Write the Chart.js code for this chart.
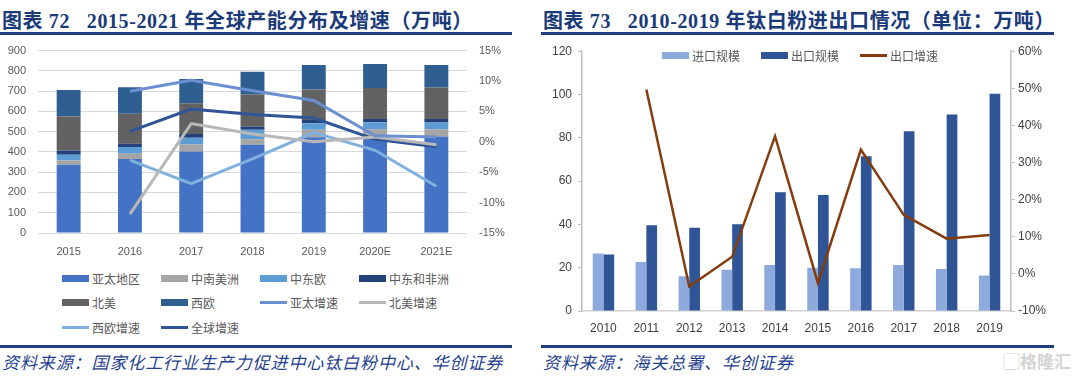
<!DOCTYPE html>
<html>
<head>
<meta charset="utf-8">
<script src="https://cdn.jsdelivr.net/npm/chart.js@4"></script>
<style>
  body { margin: 0; width: 1075px; height: 377px; background: #fff; position: relative; overflow: hidden; }
  .title { position: absolute; top: 5px; font: bold 20px "Liberation Serif", "Noto Sans CJK SC", serif; color: #1a3a7a; letter-spacing: 0.6px; white-space: pre; }
  .rule { position: absolute; height: 3px; background: #1f3f7f; }
  .src { position: absolute; top: 349px; font: italic 17px "Noto Sans CJK SC", sans-serif; color: #1f3f8f; letter-spacing: 0.9px; white-space: nowrap; }
  .box { position: absolute; }
  .leg { position: absolute; display: flex; align-items: center; font: 12px "Noto Sans CJK SC", sans-serif; color: #595959; white-space: nowrap; height: 20px; }
  .leg span.sw { display: inline-block; width: 27px; margin-right: 3px; }
  .wm { position: absolute; left: 1003px; top: 348px; font: bold 17px "Noto Sans CJK SC", sans-serif; color: #d4d4d4; }
</style>
</head>
<body>
<div class="title" style="left:2px">图表 72   2015-2021 年全球产能分布及增速（万吨）</div>
<div class="rule" style="left:0;top:32px;width:512px"></div>
<div class="title" style="left:543px">图表 73   2010-2019 年钛白粉进出口情况（单位：万吨）</div>
<div class="rule" style="left:541px;top:32px;width:513px"></div>

<div class="box" style="left:0;top:32px;width:510px;height:228px"><canvas id="c1"></canvas></div>
<div id="leg1"></div>
<div class="box" style="left:540px;top:38px;width:520px;height:302px"><canvas id="c2"></canvas></div>
<div id="leg2"></div>

<div class="rule" style="left:0;top:345px;width:512px"></div>
<div class="rule" style="left:541px;top:345px;width:513px"></div>
<div class="src" style="left:2px">资料来源：国家化工行业生产力促进中心钛白粉中心、华创证券</div>
<div class="src" style="left:543px">资料来源：海关总署、华创证券</div>
<div class="wm">▢格隆汇</div>

<script>
// 图表72 数据
const years1 = ['2015', '2016', '2017', '2018', '2019', '2020E', '2021E'];
const apac = [337, 365, 402, 435, 473, 476, 476];
const latam = [21, 26, 35, 28, 36, 36, 36];
const cee = [28, 33, 33, 46, 33, 34, 33];
const mea = [21, 16, 18, 16, 16, 16, 18];
const northAm = [168, 148, 152, 158, 150, 154, 155];
const westEu = [131, 131, 120, 113, 121, 118, 111];
const apacGrowth = [null, 8.3, 10.1, 8.4, 6.8, 1.0, 0.8];
const naGrowth = [null, -11.9, 3.0, 1.3, 0.0, 0.8, -0.5];
const weGrowth = [null, -3.0, -6.9, -2.8, 1.5, -1.4, -7.3];
const globalGrowth = [null, 1.7, 5.4, 4.5, 3.9, 0.4, -0.8];

// 图表73 数据
const years2 = ['2010', '2011', '2012', '2013', '2014', '2015', '2016', '2017', '2018', '2019'];
const imports = [26.6, 22.6, 16.1, 19.1, 21.2, 20.0, 19.7, 21.2, 19.4, 16.4];
const exportsVol = [26.1, 39.6, 38.4, 40.1, 54.9, 53.6, 71.5, 83.0, 90.8, 100.3];
const exportGrowth = [null, 49.7, -3.4, 4.6, 37.1, -2.5, 33.5, 15.9, 9.5, 10.5];

const tickFont = { family: 'Liberation Sans, Arial, sans-serif', size: 11 };

function bar(label, data, color) {
  return { type: 'bar', label: label, data: data, backgroundColor: color, order: 2,
    barPercentage: 0.39, categoryPercentage: 1 };
}
function line(label, data, color, axis, w) {
  return { type: 'line', label: label, data: data, borderColor: color, backgroundColor: color,
    yAxisID: axis, borderWidth: w, pointRadius: 0, tension: 0, order: 1 };
}

const chart1 = new Chart('c1', {
  data: {
    labels: years1,
    datasets: [
      bar('亚太地区', apac, '#4472c4'),
      bar('中南美洲', latam, '#a5a5a5'),
      bar('中东欧', cee, '#5e9cd6'),
      bar('中东和非洲', mea, '#23417a'),
      bar('北美', northAm, '#626262'),
      bar('西欧', westEu, '#2f5e91'),
      line('亚太增速', apacGrowth, '#6a8fd2', 'y1', 3),
      line('北美增速', naGrowth, '#b8b8b8', 'y1', 3),
      line('西欧增速', weGrowth, '#7fb0de', 'y1', 3),
      line('全球增速', globalGrowth, '#2f5597', 'y1', 3)
    ]
  },
  options: {
    responsive: true, maintainAspectRatio: false, animation: false,
    layout: { padding: { top: 2, left: 0, right: 0, bottom: 0 } },
    plugins: { legend: { display: false }, tooltip: { enabled: false } },
    scales: {
      x: { stacked: true, grid: { display: false }, border: { display: false },
        ticks: { font: tickFont, color: '#595959', padding: 4 },
        afterFit: s => { s.height = 27; } },
      y: { stacked: true, min: 0, max: 900, border: { display: false },
        grid: { color: '#d9d9d9', drawTicks: false },
        ticks: { stepSize: 100, font: tickFont, color: '#595959', padding: 12 },
        afterFit: s => { s.width = 38; } },
      y1: { position: 'right', min: -15, max: 15, border: { display: false },
        grid: { display: false, drawTicks: false },
        ticks: { stepSize: 5, font: tickFont, color: '#595959', padding: 12, callback: v => v + '%' },
        afterFit: s => { s.width = 43; } }
    }
  }
});

const tickFont2 = { family: 'Liberation Sans, Arial, sans-serif', size: 12 };
const chart2 = new Chart('c2', {
  data: {
    labels: years2,
    datasets: [
      { type: 'bar', label: '进口规模', data: imports, backgroundColor: '#8eaadc', order: 2,
        barPercentage: 1, categoryPercentage: 0.5 },
      { type: 'bar', label: '出口规模', data: exportsVol, backgroundColor: '#2f5597', order: 2,
        barPercentage: 1, categoryPercentage: 0.5 },
      line('出口增速', exportGrowth, '#843c0c', 'y1', 2.5)
    ]
  },
  options: {
    responsive: true, maintainAspectRatio: false, animation: false,
    layout: { padding: { top: 2, left: 0, right: 0, bottom: 0 } },
    plugins: { legend: { display: false }, tooltip: { enabled: false } },
    scales: {
      x: { grid: { display: false }, border: { display: true, color: '#d0d0d0', width: 1.5 },
        ticks: { font: tickFont2, color: '#404040', padding: 2 },
        afterFit: s => { s.height = 29; } },
      y: { min: 0, max: 120, border: { display: true, color: '#bfbfbf', width: 1.5 },
        grid: { drawOnChartArea: false, drawTicks: true, tickLength: 4, color: '#bfbfbf' },
        ticks: { stepSize: 20, font: tickFont2, color: '#404040', padding: 6 },
        afterFit: s => { s.width = 42; } },
      y1: { position: 'right', min: -10, max: 60, border: { display: true, color: '#bfbfbf', width: 1.5 },
        grid: { drawOnChartArea: false, drawTicks: true, tickLength: 4, color: '#bfbfbf' },
        ticks: { stepSize: 10, font: tickFont2, color: '#404040', padding: 3, callback: v => v + '%' },
        afterFit: s => { s.width = 49; } }
    }
  }
});

// HTML 图例
function buildLegend(chart, el, x0, y0, dx, dy, cols) {
  chart.data.datasets.forEach((ds, i) => {
    const d = document.createElement('div');
    d.className = 'leg';
    d.style.left = (x0 + (i % cols) * dx) + 'px';
    d.style.top = (y0 + Math.floor(i / cols) * dy - 10) + 'px';
    const sw = document.createElement('span');
    sw.className = 'sw';
    sw.style.height = ds.type === 'line' ? '3px' : '7px';
    sw.style.background = ds.type === 'line' ? ds.borderColor : ds.backgroundColor;
    d.appendChild(sw);
    d.appendChild(document.createTextNode(ds.label));
    document.getElementById(el).appendChild(d);
  });
}
buildLegend(chart1, 'leg1', 62, 278, 99, 24.5, 4);
buildLegend(chart2, 'leg2', 662, 55, 99, 0, 3);
</script>
</body>
</html>
